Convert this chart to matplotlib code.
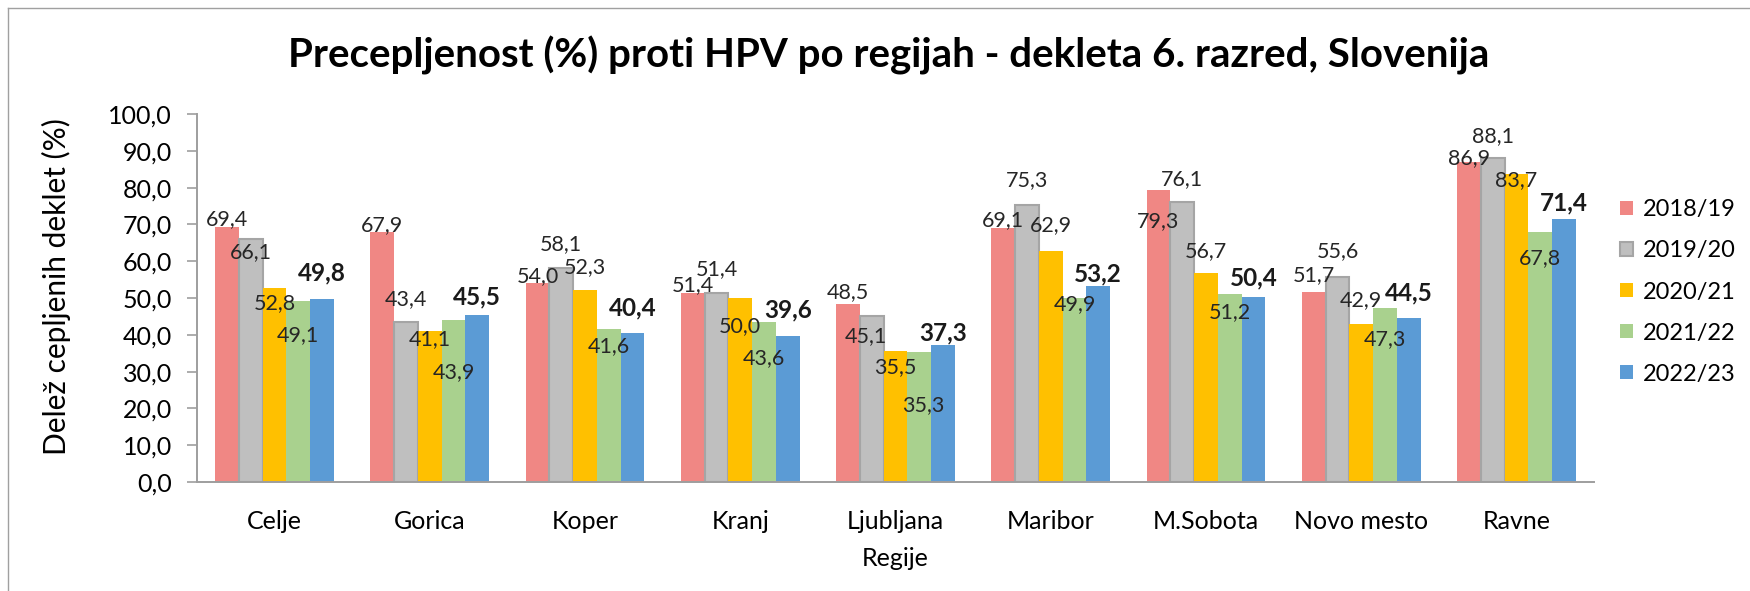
import numpy as np
import matplotlib.pyplot as plt
from matplotlib.lines import Line2D
from matplotlib.ticker import FuncFormatter

# ---- data ----
regions = ["Celje", "Gorica", "Koper", "Kranj", "Ljubljana",
           "Maribor", "M.Sobota", "Novo mesto", "Ravne"]
years = ["2018/19", "2019/20", "2020/21", "2021/22", "2022/23"]
val_2018 = [69.4, 67.9, 54.0, 51.4, 48.5, 69.1, 79.3, 51.7, 86.9]
val_2019 = [66.1, 43.4, 58.1, 51.4, 45.1, 75.3, 76.1, 55.6, 88.1]
val_2020 = [52.8, 41.1, 52.3, 50.0, 35.5, 62.9, 56.7, 42.9, 83.7]
val_2021 = [49.1, 43.9, 41.6, 43.6, 35.3, 49.9, 51.2, 47.3, 67.8]
val_2022 = [49.8, 45.5, 40.4, 39.6, 37.3, 53.2, 50.4, 44.5, 71.4]

# ---- layout / style ----
colors = ["#F08784", "#BFBFBF", "#FFC000", "#A9D18E", "#5B9BD5"]
# vertical shift of each data label from its bar top (value units),
# the original has hand-placed labels
label_dy = [
    [2.0, 1.8, 2.0, 2.0, 3.2, 2.0, -8.4, 4.4, 1.1],
    [-3.6, 6.4, 6.5, 6.5, -5.5, 6.8, 6.2, 7.2, 5.9],
    [-4.3, -2.4, 6.2, -7.5, -4.3, 6.8, 6.1, 6.6, -1.6],
    [-9.2, -13.9, -4.8, -9.8, -14.3, -1.6, -5.0, -8.4, -7.0],
    [7.0, 4.7, 6.8, 7.2, 3.2, 3.4, 5.0, 6.8, 4.4],
]
# a few labels also shifted sideways (in bar widths)
label_dx = {(1, 4): -0.24, (3, 4): 0.19}

W, H = 1750, 591
plt.rcParams['font.family'] = ['Lato', 'DejaVu Sans']


def comma(v, pos=None):
    '''format a number with one decimal and a decimal comma'''
    return f"{v:.1f}".replace(".", ",")


fig = plt.figure(figsize=(W / 100, H / 100), dpi=100)
ax = fig.add_axes([197 / W, 1 - 482 / H, 1397 / W, 368 / H])

series = [val_2018, val_2019, val_2020, val_2021, val_2022]
x = np.arange(len(regions))
width = 0.153

for i, vals in enumerate(series):
    pos = x + (i - 2) * width
    if i == 1:
        # grey series has a darker outline
        ax.bar(pos, vals, width, color=colors[i], edgecolor="#A5A5A5",
               linewidth=1.5, label=years[i], zorder=2)
    else:
        ax.bar(pos, vals, width, color=colors[i], linewidth=0,
               label=years[i], zorder=2)
    # data labels, last season in bold
    for j, v in enumerate(vals):
        dx = label_dx.get((i, j), 0) * width
        if i == 4:
            ax.text(pos[j] + dx, v + label_dy[i][j], comma(v), ha="center",
                    va="center", fontsize=17.5, fontweight="bold",
                    color="#1a1a1a", zorder=3)
        else:
            ax.text(pos[j] + dx, v + label_dy[i][j], comma(v), ha="center",
                    va="center", fontsize=15.5, color="#262626", zorder=3)

# axes
ax.set_xlim(-0.5, len(regions) - 0.5)
ax.set_ylim(0, 100)
ax.set_yticks(np.arange(0, 101, 10))
ax.yaxis.set_major_formatter(FuncFormatter(comma))
ax.set_xticks(x)
ax.set_xticklabels(regions)
ax.tick_params(axis="y", length=7, width=1.2, color="#9E9E9E",
               labelsize=18, pad=11)
ax.tick_params(axis="x", length=0, labelsize=18, pad=20)
for side in ["top", "right"]:
    ax.spines[side].set_visible(False)
for side in ["left", "bottom"]:
    ax.spines[side].set_color("#9E9E9E")
    ax.spines[side].set_linewidth(1.4)

ax.set_xlabel("Regije", fontsize=18, labelpad=10)
ax.set_ylabel("Delež cepljenih deklet (%)", fontsize=21.5)
ax.yaxis.set_label_coords(-0.09, 0.53)

# legend on the right
fig.legend(loc="center left", bbox_to_anchor=(1620 / W, 1 - 292 / H),
           frameon=False, fontsize=17, handlelength=0.55, handleheight=0.55,
           handletextpad=0.4, labelspacing=0.85, borderpad=0,
           borderaxespad=0)

# title
fig.text(889 / W, 1 - 55 / H,
         "Precepljenost (%) proti HPV po regijah - dekleta 6. razred, Slovenija",
         ha="center", va="center", fontsize=29, fontweight="bold")

# chart frame (only left and top edges are visible in the crop)
fig.add_artist(Line2D([7.5 / W, 7.5 / W], [0, 1 - 7.5 / H],
                      transform=fig.transFigure, color="#A0A0A0", lw=1))
fig.add_artist(Line2D([7.5 / W, 1], [1 - 7.5 / H, 1 - 7.5 / H],
                      transform=fig.transFigure, color="#A0A0A0", lw=1))

fig.savefig("out.png", dpi=100)
